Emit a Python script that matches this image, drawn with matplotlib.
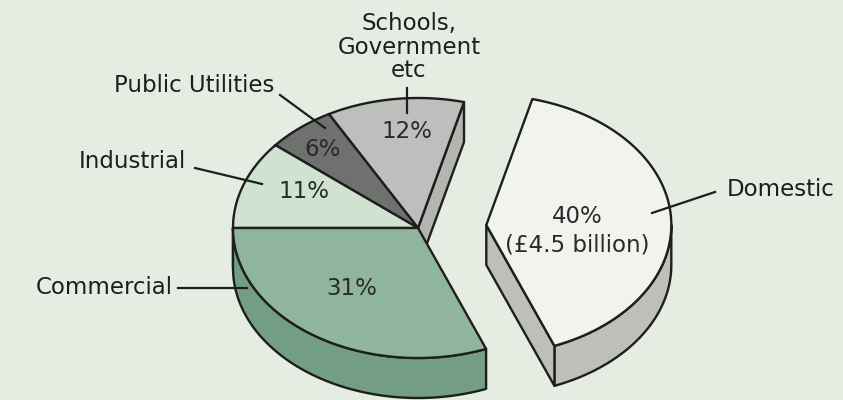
import matplotlib.pyplot as plt
import numpy as np
from matplotlib.patches import Polygon

# data
sectors = ['Domestic', 'Schools,\nGovernment\netc', 'Public Utilities', 'Industrial', 'Commercial']
shares = [40, 12, 6, 11, 31]
pct_labels = ['40%\n(£4.5 billion)', '12%', '6%', '11%', '31%']
explode = [0.37, 0, 0, 0, 0]

top_colors = ['#f1f3ee', '#bdbfbc', '#6e716e', '#d0e3d0', '#8fb69c']
side_colors = ['#bebfbb', '#b3b5b1', '#5e615e', '#b6ceb8', '#739e84']
bg = '#e5ece2'
ink = '#1e1e1e'

plt.rcParams['font.family'] = ['DejaVu Sans']

fig = plt.figure(figsize=(8.43, 4.0), dpi=100)
fig.patch.set_facecolor(bg)
ax = fig.add_axes([0, 0, 1, 1])
ax.set_xlim(0, 843)
ax.set_ylim(400, 0)
ax.axis('off')

# pie geometry (pixels), tilted disc
cx, cy, rx, ry, depth = 418, 228, 185, 130, 40
start = 180 - 360 * sum(shares[:4]) / 100   # Industrial/Commercial cut lies flat on the left
edges = start + 360 * np.concatenate([[0], np.cumsum(shares)]) / 100


def pt(t, off, r=1.0, dz=0.0):
    a = np.radians(t)
    return cx + off[0] + r * rx * np.cos(a), cy + off[1] - r * ry * np.sin(a) + dz


offsets = []
for i in range(len(shares)):
    mid = np.radians((edges[i] + edges[i + 1]) / 2)
    offsets.append((rx * explode[i] * np.cos(mid), -ry * explode[i] * np.sin(mid)))

lw = 1.7
# side walls first
for i in range(len(shares)):
    a0, a1, off = edges[i], edges[i + 1], offsets[i]
    for k in (-1, 0, 1):
        lo, hi = max(a0, 180 + 360 * k), min(a1, 360 + 360 * k)
        if hi > lo:
            ts = np.linspace(lo, hi, 120)
            top = [pt(t, off) for t in ts]
            bot = [pt(t, off, dz=depth) for t in ts[::-1]]
            ax.add_patch(Polygon(top + bot, closed=True, fc=side_colors[i], ec=ink,
                                 lw=lw, joinstyle='round'))
    v = pt(0, off, r=0)
    for a, vis in ((a0, np.cos(np.radians(a0)) > 0), (a1, np.cos(np.radians(a1)) < 0)):
        if vis:
            p = pt(a, off)
            quad = [v, p, (p[0], p[1] + depth), (v[0], v[1] + depth)]
            ax.add_patch(Polygon(quad, closed=True, fc=side_colors[i], ec=ink,
                                 lw=lw, joinstyle='round'))

# top faces
for i in range(len(shares)):
    a0, a1, off = edges[i], edges[i + 1], offsets[i]
    ts = np.linspace(a0, a1, 200)
    face = [pt(0, off, r=0)] + [pt(t, off) for t in ts]
    ax.add_patch(Polygon(face, closed=True, fc=top_colors[i], ec=ink, lw=lw,
                         joinstyle='round'))

# percentage labels
pct_r = [0.48, 0.75, 0.74, 0.69, 0.58]
pct_nudge = [(2, 10), (6, 0), (-8, -4), (6, -6), (-6, -2)]
fs = 16.5
for i in range(len(shares)):
    mid = (edges[i] + edges[i + 1]) / 2
    x, y = pt(mid, offsets[i], r=pct_r[i])
    ax.text(x + pct_nudge[i][0], y + pct_nudge[i][1], pct_labels[i], ha='center',
            va='center', fontsize=fs, color='#2a2a2a', linespacing=1.3)

# sector names with leader lines
name_pos = [(727, 190, 'left'), (409, 47, 'center'), (274, 86, 'right'),
            (186, 162, 'right'), (173, 287, 'right')]
leaders = [((715, 192), (652, 213)), ((407, 88), (407, 113)), ((280, 95), (325, 128)),
           ((195, 168), (262, 184)), ((178, 288), (247, 288))]
for i, name in enumerate(sectors):
    x, y, ha = name_pos[i]
    ax.text(x, y, name, ha=ha, va='center', fontsize=fs, color=ink,
            linespacing=1.05, multialignment='center')
    (x0, y0), (x1, y1) = leaders[i]
    ax.plot([x0, x1], [y0, y1], color=ink, lw=1.6)

fig.savefig('out.png', dpi=100, facecolor=bg)
